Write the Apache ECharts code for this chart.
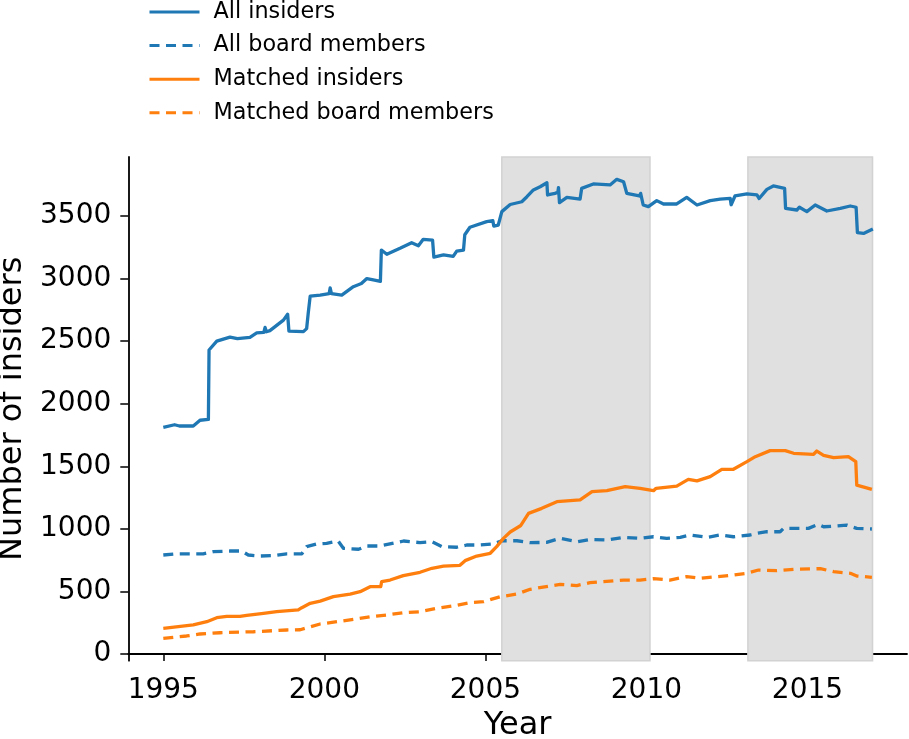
<!DOCTYPE html>
<html>
<head>
<meta charset="utf-8">
<script src="https://cdn.jsdelivr.net/npm/echarts@6/dist/echarts.min.js"></script>
<style>
html,body{margin:0;padding:0;background:#fff;}
#chart{width:909px;height:739px;}
</style>
</head>
<body>
<div id="chart"></div>
<script>
// ---- data ----
var allInsiders = [[1995.0,1811],[1995.35,1832],[1995.5,1822],[1995.93,1822],[1996.14,1868],[1996.40,1875],[1996.42,2429],[1996.66,2500],[1997.07,2532],[1997.3,2520],[1997.69,2531],[1997.9,2566],[1998.12,2570],[1998.16,2610],[1998.2,2575],[1998.31,2584],[1998.73,2668],[1998.86,2715],[1998.9,2580],[1999.35,2576],[1999.45,2600],[1999.50,2725],[1999.56,2860],[1999.87,2868],[2000.15,2880],[2000.18,2925],[2000.22,2880],[2000.54,2868],[2000.9,2935],[2001.15,2960],[2001.32,3000],[2001.52,2990],[2001.74,2978],[2001.77,3228],[2001.94,3194],[2002.35,3242],[2002.71,3287],[2002.92,3262],[2003.07,3314],[2003.36,3308],[2003.40,3172],[2003.7,3190],[2004.0,3177],[2004.11,3220],[2004.32,3228],[2004.36,3350],[2004.52,3410],[2005.04,3455],[2005.23,3463],[2005.26,3420],[2005.40,3428],[2005.51,3535],[2005.77,3592],[2006.13,3614],[2006.29,3654],[2006.49,3708],[2006.70,3734],[2006.91,3766],[2006.93,3668],[2007.16,3681],[2007.25,3690],[2007.27,3727],[2007.30,3607],[2007.53,3649],[2007.94,3635],[2007.99,3721],[2008.35,3756],[2008.87,3748],[2009.08,3793],[2009.29,3774],[2009.39,3681],[2009.78,3660],[2009.82,3681],[2009.9,3588],[2010.06,3575],[2010.32,3623],[2010.53,3596],[2010.94,3596],[2011.25,3649],[2011.57,3588],[2011.98,3623],[2012.29,3635],[2012.6,3641],[2012.63,3590],[2012.75,3660],[2013.12,3676],[2013.43,3668],[2013.5,3640],[2013.74,3713],[2013.94,3740],[2014.29,3721],[2014.32,3561],[2014.67,3548],[2014.75,3570],[2014.98,3535],[2015.24,3588],[2015.6,3540],[2016.02,3561],[2016.33,3580],[2016.51,3570],[2016.55,3367],[2016.74,3361],[2017.03,3396]];

var allBoard = [[1995.0,791],[1995.36,800],[1996.24,800],[1996.55,818],[1997.07,823],[1997.43,823],[1997.64,791],[1998.0,783],[1998.42,786],[1998.83,800],[1999.3,800],[1999.45,858],[1999.76,879],[2000.07,884],[2000.43,903],[2000.59,845],[2001.06,837],[2001.32,863],[2001.73,863],[2002.46,903],[2002.97,890],[2003.34,897],[2003.65,858],[2004.11,853],[2004.42,871],[2004.84,871],[2005.25,879],[2005.51,905],[2005.98,905],[2006.39,890],[2006.9,892],[2007.32,924],[2007.84,897],[2008.25,916],[2008.77,911],[2009.29,932],[2009.8,924],[2010.22,937],[2010.63,924],[2011.05,932],[2011.36,951],[2011.88,932],[2012.29,951],[2012.7,937],[2013.22,951],[2013.43,964],[2013.74,977],[2014.15,977],[2014.26,1004],[2014.67,1004],[2015.03,1004],[2015.34,1036],[2015.5,1017],[2015.86,1022],[2016.22,1030],[2016.53,1004],[2017.0,999]];

var matchedInsiders = [[1995.0,205],[1995.93,232],[1996.35,258],[1996.66,290],[1996.97,300],[1997.38,300],[1997.59,309],[1998.11,325],[1998.52,338],[1999.19,352],[1999.3,370],[1999.56,405],[1999.87,423],[2000.28,458],[2000.8,479],[2001.11,498],[2001.42,538],[2001.75,538],[2001.78,578],[2002.04,591],[2002.45,626],[2002.97,653],[2003.34,685],[2003.7,703],[2004.21,709],[2004.37,746],[2004.73,783],[2005.15,805],[2005.35,858],[2005.56,924],[2005.77,975],[2006.1,1027],[2006.34,1124],[2006.75,1164],[2007.22,1217],[2007.94,1231],[2008.31,1297],[2008.77,1305],[2009.34,1337],[2009.8,1324],[2010.22,1305],[2010.3,1324],[2010.94,1342],[2011.3,1396],[2011.57,1383],[2011.98,1417],[2012.34,1476],[2012.7,1476],[2013.12,1537],[2013.38,1577],[2013.84,1625],[2014.31,1625],[2014.57,1604],[2015.19,1596],[2015.29,1622],[2015.5,1588],[2015.81,1569],[2016.27,1577],[2016.5,1537],[2016.53,1350],[2017.0,1316]];

var matchedBoard = [[1995.0,125],[1995.72,144],[1996.14,160],[1996.76,170],[1997.8,178],[1998.83,192],[1999.25,194],[1999.87,240],[2000.39,258],[2000.9,277],[2001.42,298],[2001.94,312],[2002.45,330],[2002.97,338],[2003.49,365],[2004.0,384],[2004.52,410],[2004.94,418],[2005.46,458],[2005.98,479],[2006.39,517],[2007.32,557],[2007.84,547],[2008.25,570],[2009.29,591],[2009.8,591],[2010.22,602],[2010.73,591],[2011.25,618],[2011.67,605],[2012.19,618],[2012.7,631],[2013.12,645],[2013.48,671],[2014.05,666],[2014.57,677],[2015.4,682],[2015.81,658],[2016.33,645],[2016.53,623],[2017.0,613]];

var shadeStart = [2005.51, 2013.15];
var shadeEnd = [2010.11, 2017.02];

var xTicks = [1995, 2000, 2005, 2010, 2015];
var yTicks = [0, 500, 1000, 1500, 2000, 2500, 3000, 3500];

var seriesNames = ['All insiders', 'All board members', 'Matched insiders', 'Matched board members'];
// ---------------------------------------------

var FONT = 'DejaVu Sans';
var BLUE = '#1f77b4', ORANGE = '#ff7f0e';
var DASH = [10, 6.5];

var shadeData = shadeStart.map(function (s, i) {
  return [{ xAxis: s }, { xAxis: shadeEnd[i] }];
});

function lineSeries(name, data, color, dashed) {
  return {
    name: name,
    type: 'line',
    data: data,
    showSymbol: false,
    symbol: 'none',
    z: 3,
    lineStyle: { color: color, width: 3.3, type: dashed ? DASH : 'solid', cap: 'butt', join: 'round' },
    itemStyle: { color: color },
    emphasis: { disabled: true }
  };
}

var chart = echarts.init(document.getElementById('chart'), null, { renderer: 'canvas' });
chart.setOption({
  animation: false,
  backgroundColor: '#ffffff',
  textStyle: { fontFamily: FONT, color: '#000' },
  grid: { left: 128.3, right: 2, top: 157, bottom: 78.3, containLabel: false, outerBoundsMode: 'none' },
  legend: {
    data: seriesNames,
    orient: 'vertical',
    left: 148,
    top: 1,
    padding: 0,
    itemWidth: 50,
    itemHeight: 14,
    itemGap: 11.6,
    itemStyle: { color: 'rgba(0,0,0,0)', borderWidth: 0, opacity: 0 },
    lineStyle: { width: 3 },
    textStyle: { fontFamily: FONT, fontSize: 22.3, color: '#000', lineHeight: 22, padding: [0, 0, 0, 9] },
    selectedMode: false
  },
  xAxis: {
    type: 'value',
    min: 1993.913,
    max: 2018.09,
    name: 'Year',
    nameLocation: 'middle',
    nameGap: 48,
    nameTextStyle: { fontFamily: FONT, fontSize: 32, color: '#000' },
    axisLine: { show: true, lineStyle: { color: '#000', width: 1.8 } },
    axisTick: { show: true, length: 7, lineStyle: { color: '#000', width: 1.5 }, customValues: xTicks },
    axisLabel: {
      fontFamily: FONT, fontSize: 28, color: '#000', margin: 16,
      customValues: xTicks,
      formatter: function (v) { return String(v); }
    },
    splitLine: { show: false }
  },
  yAxis: {
    type: 'value',
    min: -53.5,
    max: 3971.5,
    name: 'Number of insiders',
    nameLocation: 'middle',
    nameGap: 97,
    nameTextStyle: { fontFamily: FONT, fontSize: 32, color: '#000' },
    axisLine: { show: true, lineStyle: { color: '#000', width: 1.8 } },
    axisTick: { show: true, length: 8, lineStyle: { color: '#000', width: 1.5 }, customValues: yTicks },
    axisLabel: {
      fontFamily: FONT, fontSize: 28, color: '#000', margin: 17,
      customValues: yTicks,
      formatter: function (v) { return String(v); }
    },
    splitLine: { show: false }
  },
  series: [
    {
      name: 'shade',
      type: 'line',
      data: [],
      z: 1,
      silent: true,
      markArea: {
        silent: true,
        itemStyle: { color: '#e0e0e0', borderColor: '#d2d2d2', borderWidth: 1.5 },
        data: shadeData
      }
    },
    lineSeries(seriesNames[0], allInsiders, BLUE, false),
    lineSeries(seriesNames[1], allBoard, BLUE, true),
    lineSeries(seriesNames[2], matchedInsiders, ORANGE, false),
    lineSeries(seriesNames[3], matchedBoard, ORANGE, true)
  ]
});
</script>
</body>
</html>
